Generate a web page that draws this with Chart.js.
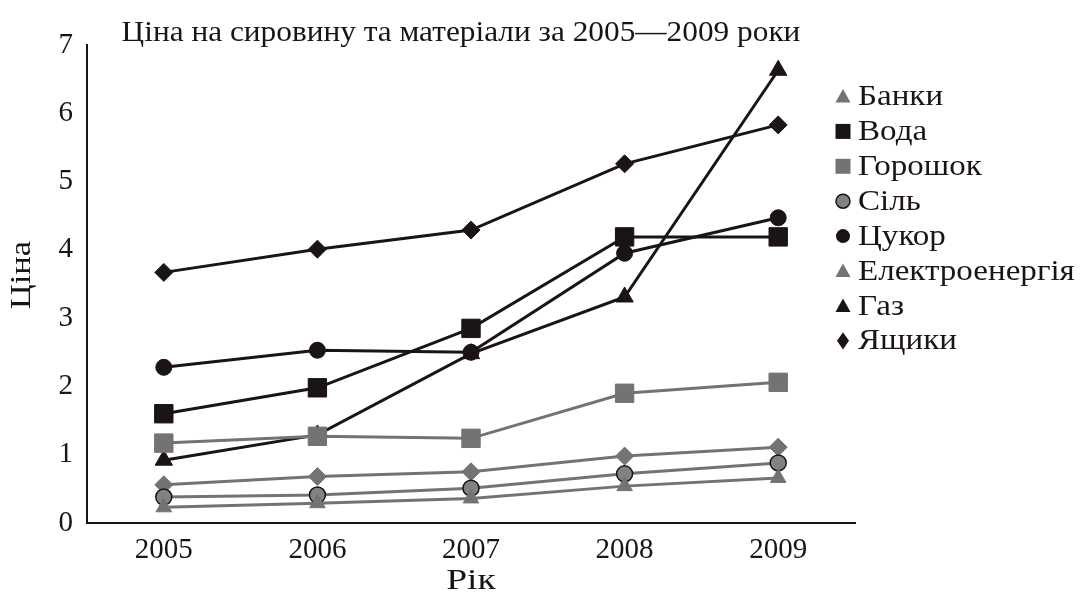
<!DOCTYPE html>
<html>
<head>
<meta charset="utf-8">
<script src="https://cdn.jsdelivr.net/npm/chart.js@4/dist/chart.umd.min.js"></script>
<style>
  body { margin: 0; background: #fff; }
  #wrap { position: relative; width: 1080px; height: 598px; }
</style>
</head>
<body>
<div id="wrap"><canvas id="chart" width="1080" height="598"></canvas></div>
<script>
// ------------------ Données ------------------
const years = ['2005', '2006', '2007', '2008', '2009'];
const banky = [0.23, 0.29, 0.36, 0.54, 0.66];
const voda = [1.60, 1.98, 2.85, 4.19, 4.19];
const goroshok = [1.17, 1.27, 1.24, 1.90, 2.06];
const sil = [0.38, 0.41, 0.51, 0.72, 0.88];
const tsukor = [2.28, 2.53, 2.50, 3.95, 4.47];
const elektro = [0.56, 0.68, 0.75, 0.98, 1.11];
const gaz = [0.92, 1.29, 2.48, 3.31, 6.63];
const yashchyky = [3.67, 4.01, 4.29, 5.26, 5.83];
const yTicks = [0, 1, 2, 3, 4, 5, 6, 7];

const BLACK = '#1a1414';
const GRAY = '#737373';
const SERIF = "'Liberation Serif', 'DejaVu Serif', serif";

function series(label, data, color, style, radius, legendStyle, extra) {
    return Object.assign({
        label: label,
        data: data,
        borderColor: color,
        backgroundColor: color,
        borderWidth: 3,
        pointStyle: style,
        pointRadius: radius,
        pointBackgroundColor: color,
        pointBorderColor: color,
        pointBorderWidth: 1,
        tension: 0,
        legendStyle: legendStyle || style
    }, extra || {});
}

const datasets = [
    series('Банки', banky, GRAY, 'triangle', 9),
    series('Вода', voda, BLACK, 'rect', 13),
    series('Горошок', goroshok, GRAY, 'rect', 13),
    series('Сіль', sil, GRAY, 'circle', 8, 'circle', { pointBorderColor: BLACK, pointBorderWidth: 1.5, pointBackgroundColor: '#828282' }),
    series('Цукор', tsukor, BLACK, 'circle', 8),
    series('Електроенергія', elektro, GRAY, 'rectRot', 9, 'triangle'),
    series('Газ', gaz, BLACK, 'triangle', 10),
    series('Ящики', yashchyky, BLACK, 'rectRot', 9)
];

// marqueur de légende dessiné à la main
function drawMarker(ctx, style, x, y, s, fill, stroke) {
    ctx.save();
    ctx.fillStyle = fill;
    ctx.strokeStyle = stroke;
    ctx.lineWidth = 1.5;
    ctx.beginPath();
    if (style === 'triangle') {
        ctx.moveTo(x, y - s);
        ctx.lineTo(x + s, y + s * 0.8);
        ctx.lineTo(x - s, y + s * 0.8);
        ctx.closePath();
    } else if (style === 'rect') {
        ctx.rect(x - s, y - s, 2 * s, 2 * s);
    } else if (style === 'circle') {
        ctx.arc(x, y, s, 0, Math.PI * 2);
    } else {
        ctx.moveTo(x, y - s * 1.15);
        ctx.lineTo(x + s * 0.8, y);
        ctx.lineTo(x, y + s * 1.15);
        ctx.lineTo(x - s * 0.8, y);
        ctx.closePath();
    }
    ctx.fill();
    if (stroke !== fill) ctx.stroke();
    ctx.restore();
}

// texte élargi horizontalement (la police de l'original est plus large)
function wideText(ctx, text, x, y, sx, align) {
    ctx.save();
    ctx.translate(x, y);
    ctx.scale(sx, 1);
    ctx.textAlign = align;
    ctx.fillText(text, 0, 0);
    ctx.restore();
}

const decorPlugin = {
    id: 'decor',
    afterDraw(chart) {
        const ctx = chart.ctx;
        const area = chart.chartArea;
        ctx.save();
        ctx.fillStyle = BLACK;
        ctx.textBaseline = 'middle';
        // titre
        ctx.font = '29px ' + SERIF;
        wideText(ctx, 'Ціна на сировину та матеріали за 2005—2009 роки', 461, 33, 1.08, 'center');
        // titres des axes
        ctx.font = '30px ' + SERIF;
        wideText(ctx, 'Рік', (area.left + area.right) / 2, 581, 1.25, 'center');
        ctx.save();
        ctx.translate(22, 275);
        ctx.rotate(-Math.PI / 2);
        wideText(ctx, 'Ціна', 0, 0, 1.15, 'center');
        ctx.restore();
        // légende
        ctx.font = '29px ' + SERIF;
        chart.data.datasets.forEach((ds, i) => {
            const y = 96.5 + i * 34.9;
            const size = ds.legendStyle === 'circle' ? 7 : 7.5;
            drawMarker(ctx, ds.legendStyle, 843, y, size, ds.pointBackgroundColor, ds.pointBorderColor);
            ctx.fillStyle = BLACK;
            wideText(ctx, ds.label, 858, y + 1, 1.14, 'left');
        });
        ctx.restore();
    }
};

const ctx = document.getElementById('chart').getContext('2d');
new Chart(ctx, {
    type: 'line',
    data: { labels: years, datasets: datasets },
    options: {
        responsive: false,
        animation: false,
        layout: { padding: { top: 45, right: 225, bottom: 0, left: 0 } },
        plugins: {
            legend: { display: false },
            title: { display: false },
            tooltip: { enabled: false }
        },
        scales: {
            x: {
                offset: true,
                grid: { display: false, drawTicks: false },
                border: { display: true, color: BLACK, width: 2 },
                ticks: { color: BLACK, font: { family: SERIF, size: 29 }, padding: 10 },
                afterFit(scale) { scale.height = 75; }
            },
            y: {
                min: 0,
                max: 7,
                grid: { display: false, drawTicks: false },
                border: { display: true, color: BLACK, width: 2 },
                afterBuildTicks(scale) { scale.ticks = yTicks.map(v => ({ value: v })); },
                ticks: { color: BLACK, font: { family: SERIF, size: 29 }, padding: 14 },
                afterFit(scale) { scale.width = 87; }
            }
        }
    },
    plugins: [decorPlugin]
});
</script>
</body>
</html>
